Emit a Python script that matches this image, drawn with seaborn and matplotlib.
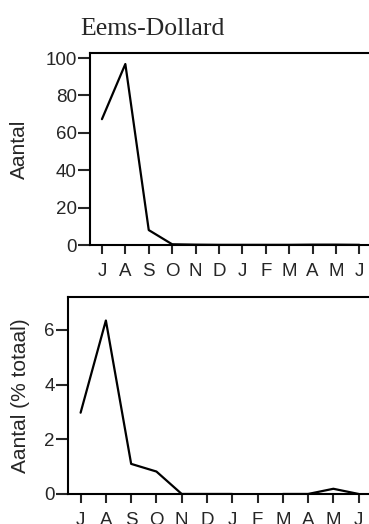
import numpy as np
import pandas as pd
import seaborn as sns
import matplotlib.pyplot as plt

months = ['J', 'A', 'S', 'O', 'N', 'D', 'J', 'F', 'M', 'A', 'M', 'J']
aantal = [67.3, 96.8, 8.0, 0.4, 0.2, 0.1, 0.1, 0.1, 0.1, 0.2, 0.2, 0.1]
aantal_pct = [2.97, 6.34, 1.1, 0.82, 0.0, 0.0, 0.0, np.nan, 0.0, 0.0, 0.19, 0.0]

sns.set_style('ticks')
plt.rcParams['font.family'] = ['Liberation Sans', 'DejaVu Sans']
plt.rcParams['font.size'] = 14

fig = plt.figure(figsize=(3.69, 5.24), dpi=100)
ax1 = fig.add_axes([0.2439, 0.5324, 0.7561, 0.3665])
ax2 = fig.add_axes([0.1835, 0.0573, 0.8165, 0.3765])


def make_df(vals):
    df = pd.DataFrame({'x': np.arange(len(vals)), 'y': vals})
    # split the line where a month is missing
    df['seg'] = df['y'].isna().cumsum()
    return df.dropna()


for ax, vals, ylim, yticks, label, lab_x in [
    (ax1, aantal, (0, 102.7), [0, 20, 40, 60, 80, 100], 'Aantal', 19.5 / 369),
    (ax2, aantal_pct, (0, 7.21), [0, 2, 4, 6], 'Aantal (% totaal)', 21 / 369),
]:
    sns.lineplot(data=make_df(vals), x='x', y='y', units='seg', estimator=None,
                 color='black', linewidth=1.6, ax=ax)
    ax.set_xlim(-0.51, 11.41)
    ax.set_ylim(*ylim)
    ax.set_xticks(range(len(months)))
    ax.set_xticklabels(months)
    ax.set_yticks(yticks)
    ax.set_xlabel('')
    ax.set_ylabel('')
    ax.tick_params(axis='y', length=8.5, width=1.5, pad=1, labelsize=13.5)
    ax.tick_params(axis='x', length=6.5, width=1.5, pad=6.5, labelsize=13.5)
    ax.spines['right'].set_visible(False)
    for s in ['left', 'top', 'bottom']:
        ax.spines[s].set_linewidth(1.5)
        ax.spines[s].set_color('black')
    bbox = ax.get_position()
    fig.text(lab_x, (bbox.y0 + bbox.y1) / 2, label, rotation=90,
             ha='center', va='center', fontsize=15)

fig.text(80 / 369, 1 - 35 / 524, 'Eems-Dollard', family='Liberation Serif',
         fontsize=18.5, ha='left', va='baseline')

plt.savefig('out.png', dpi=100)
